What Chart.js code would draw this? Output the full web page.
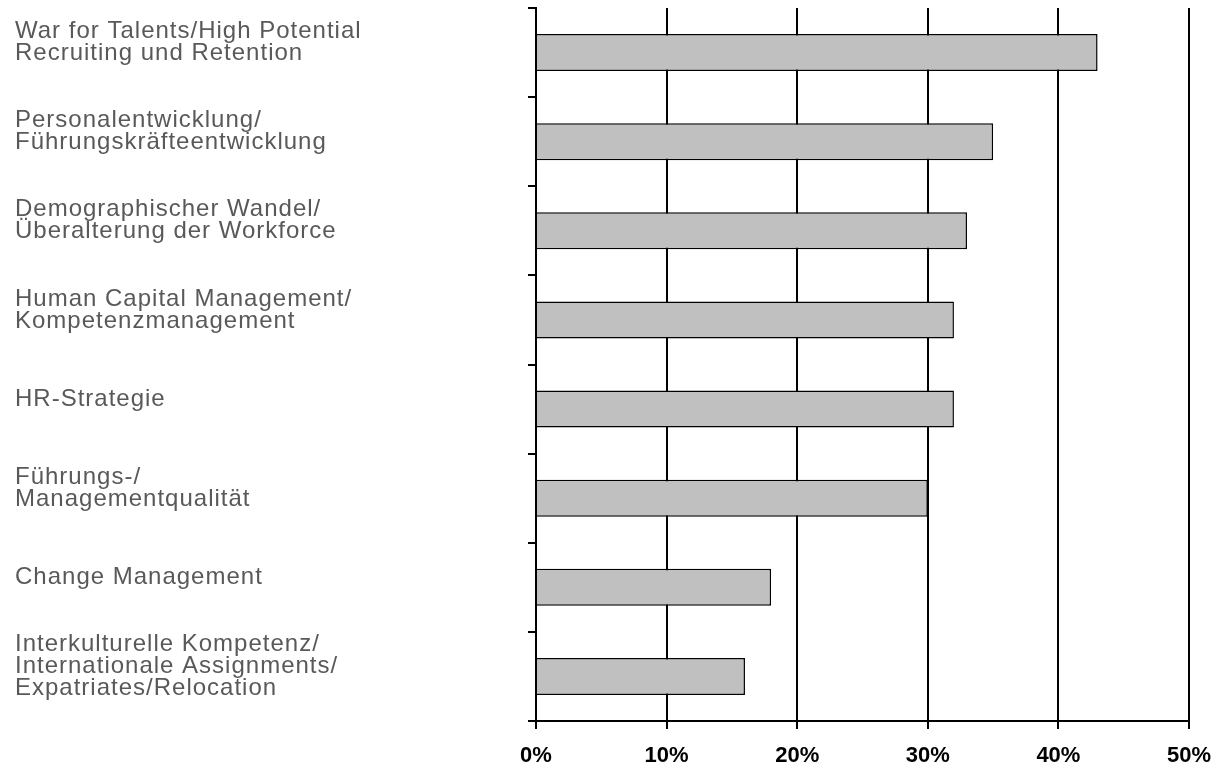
<!DOCTYPE html>
<html>
<head>
<meta charset="utf-8">
<script src="https://cdn.jsdelivr.net/npm/chart.js@4/dist/chart.umd.min.js"></script>
<style>
  body { margin: 0; background: #fff; }
  #wrap { width: 1215px; height: 767px; position: relative; }
</style>
</head>
<body>
<div id="wrap"><canvas id="hr"></canvas></div>
<script>
var categories = [
    ['War for Talents/High Potential', 'Recruiting und Retention'],
    ['Personalentwicklung/', 'Führungskräfteentwicklung'],
    ['Demographischer Wandel/', 'Überalterung der Workforce'],
    ['Human Capital Management/', 'Kompetenzmanagement'],
    'HR-Strategie',
    ['Führungs-/', 'Managementqualität'],
    'Change Management',
    ['Interkulturelle Kompetenz/', 'Internationale Assignments/', 'Expatriates/Relocation']
];
var shares = [43, 35, 33, 32, 32, 30, 18, 16];
var axisMin = 0;
var axisMax = 50;
var axisStep = 10;

// the category labels in the original are spaced out a bit
var labelSpacing = {
    id: 'labelSpacing',
    beforeDraw: function (chart) {
        var s = chart.scales.y;
        if (s.__spaced) return;
        var orig = s.drawLabels;
        s.drawLabels = function (area) {
            var ctx = this.ctx;
            ctx.save();
            ctx.letterSpacing = '1px';
            orig.call(this, area);
            ctx.restore();
        };
        s.__spaced = true;
    }
};

var canvas = document.getElementById('hr').getContext('2d');
var chart = new Chart(canvas, {
    type: 'bar',
    data: {
        labels: categories,
        datasets: [{
            data: shares,
            backgroundColor: '#c0c0c0',
            borderColor: '#000',
            borderWidth: 1.5,
            barPercentage: 0.415,
            categoryPercentage: 1
        }]
    },
    options: {
        indexAxis: 'y',
        responsive: true,
        maintainAspectRatio: false,
        animation: false,
        layout: { padding: { left: 15, right: 26, top: 8, bottom: 0 } },
        plugins: {
            legend: { display: false },
            tooltip: { enabled: false }
        },
        scales: {
            x: {
                min: axisMin,
                max: axisMax,
                grid: { color: '#000', lineWidth: 2, tickLength: 8 },
                border: { color: '#000', width: 2 },
                ticks: {
                    stepSize: axisStep,
                    color: '#000',
                    padding: 14,
                    font: { family: 'Liberation Sans, Arial, sans-serif', size: 22, weight: 'bold' },
                    callback: function (v) { return v + '%'; }
                },
                afterFit: function (s) {
                    s.height = 46;
                    s.paddingLeft = 0;
                    s.paddingRight = 0;
                }
            },
            y: {
                grid: { drawOnChartArea: false, color: '#000', lineWidth: 2, tickLength: 8 },
                border: { color: '#000', width: 2 },
                ticks: {
                    color: '#595959',
                    crossAlign: 'far',
                    labelOffset: -10,
                    font: { family: 'Liberation Sans, Arial, sans-serif', size: 24, lineHeight: '22px' }
                },
                afterFit: function (s) {
                    s.width = 521;
                    s.paddingTop = 0;
                    s.paddingBottom = 0;
                }
            }
        }
    },
    plugins: [labelSpacing]
});
</script>
</body>
</html>
